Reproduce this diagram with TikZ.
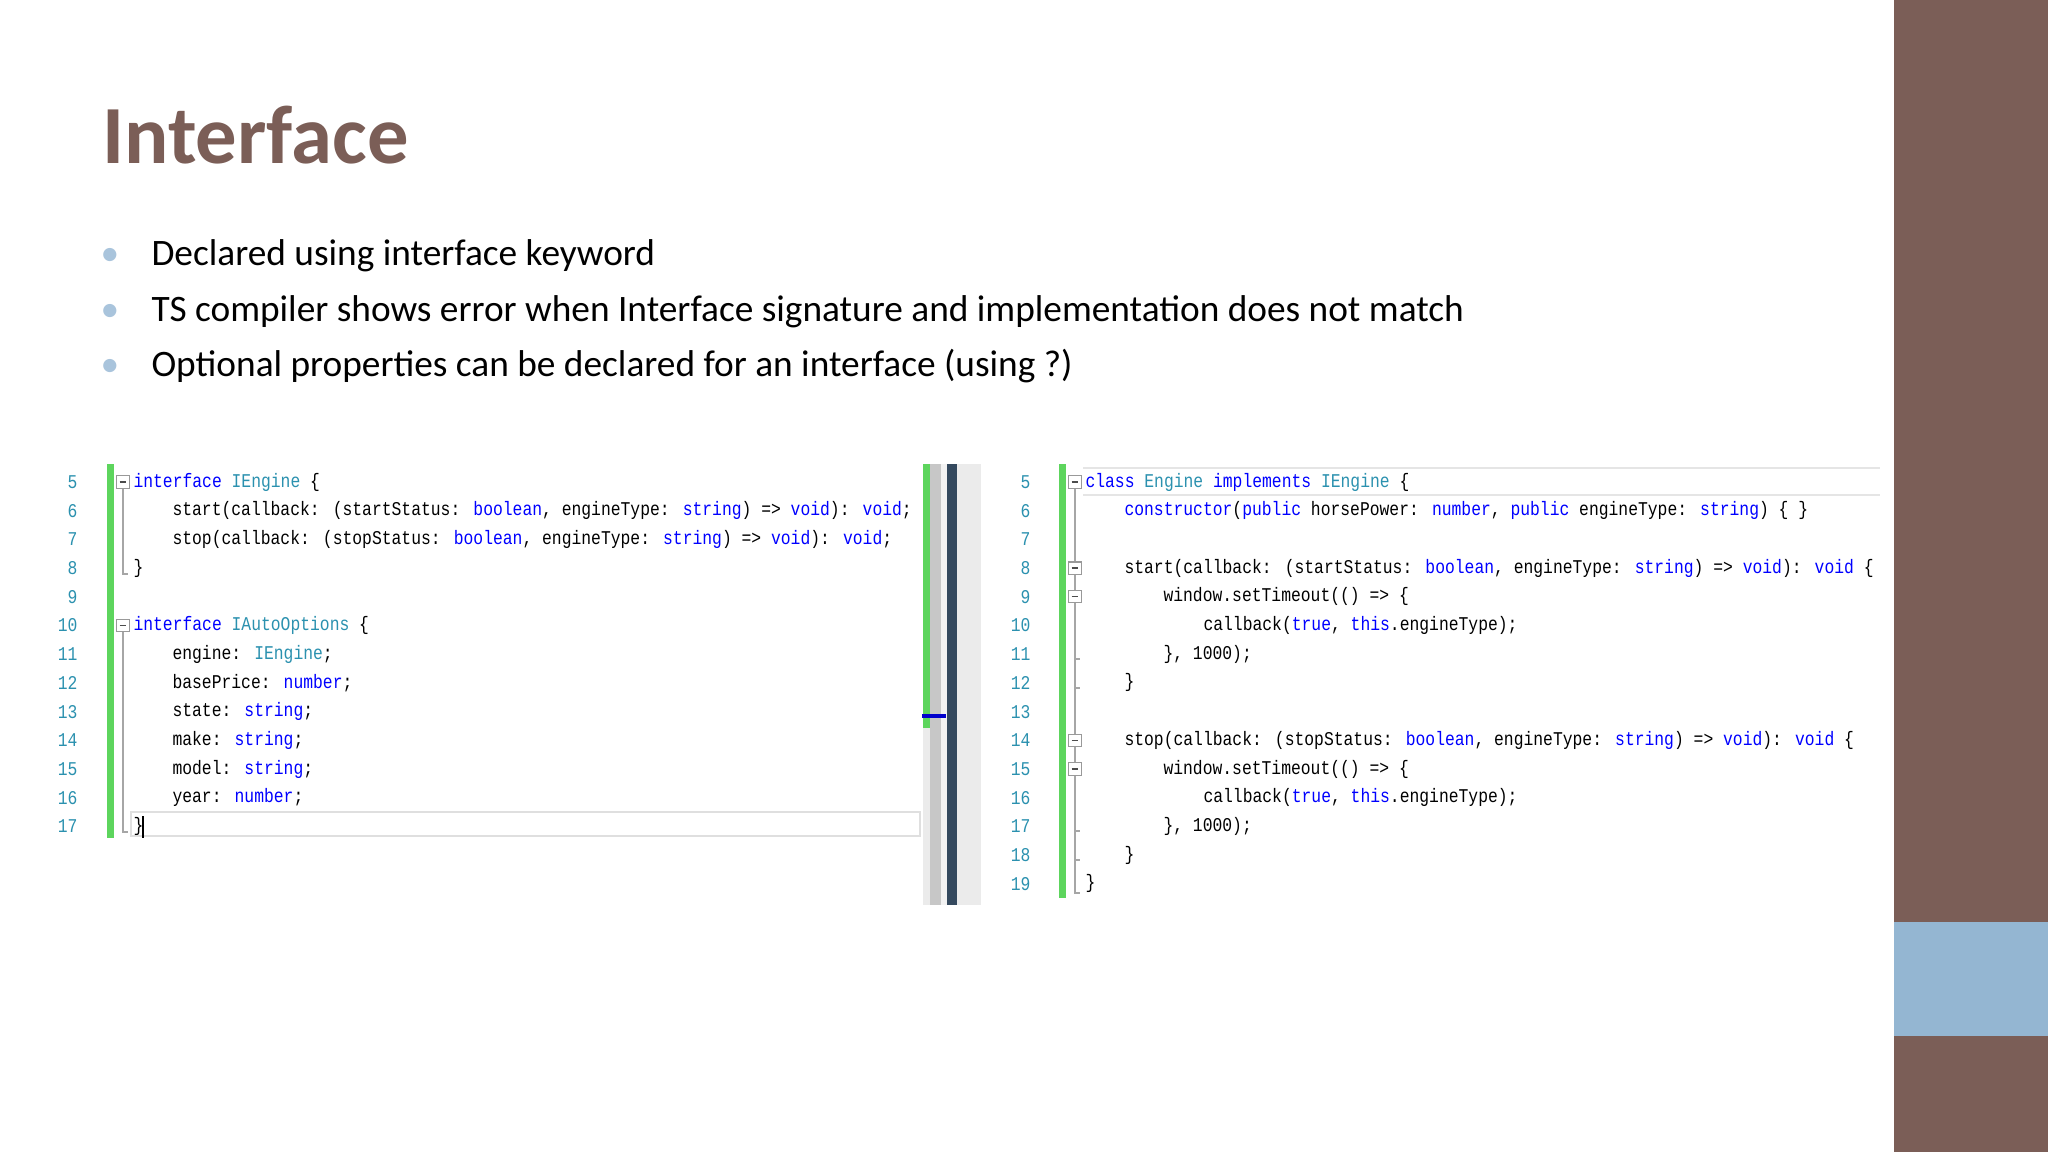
\documentclass[tikz,border=0pt]{standalone}
\usepackage{fontspec}
\setmainfont{Carlito}
\newfontfamily\codefont[FakeStretch=0.84]{Liberation Mono}
\definecolor{brownbar}{HTML}{7B5E57}
\definecolor{bluebar}{HTML}{94B6D2}
\definecolor{kwblue}{HTML}{0000FF}
\definecolor{tyteal}{HTML}{2B91AF}
\definecolor{lnum}{HTML}{2B91AF}
\definecolor{gbar}{HTML}{5DD55D}
\definecolor{bulletc}{HTML}{A9C4DC}
\definecolor{navy}{HTML}{34495E}
\newcommand\kw[1]{\textcolor{kwblue}{#1}}
\newcommand\ty[1]{\textcolor{tyteal}{#1}}
\begin{document}
\begin{tikzpicture}[x=0.375pt,y=-0.375pt,
  codetext/.style={anchor=west,inner sep=0pt,font=\codefont\fontsize{7.3}{8}\selectfont,text=black},
  linenum/.style={anchor=east,inner sep=0pt,font=\codefont\fontsize{7.3}{8}\selectfont,text=lnum},
  bullettext/.style={anchor=base west,inner sep=0pt,font=\fontsize{14}{16}\selectfont,text=black},
  bulletdot/.style={anchor=base,inner sep=0pt,font=\fontsize{14}{16}\selectfont,text=bulletc},
  foldbox/.style={draw=gray!80,fill=white,minimum size=4.6pt,inner sep=0pt,line width=0.4pt,
    path picture={\draw[black!70,line width=0.5pt] ([xshift=1pt]path picture bounding box.west) -- ([xshift=-1pt]path picture bounding box.east);}},
  guide/.style={draw=gray!70,line width=0.4pt}]
\useasboundingbox (0,0) rectangle (2048,1152);
\fill[white] (0,0) rectangle (2048,1152);
% right bars
\fill[brownbar] (1894,0) rectangle (2048,1152);
\fill[bluebar] (1894,922) rectangle (2048,1036);
% title
\node[anchor=base west,inner sep=0pt,text=brownbar,font=\bfseries\fontsize{31}{36}\selectfont] (title) at (102,163) {Interface};
% bullets
\node[bulletdot] (b1) at (110,265) {•};
\node[bullettext] (t1) at (151,265) {Declared using interface keyword};
\node[bulletdot] (b2) at (110,321) {•};
\node[bullettext] (t2) at (151,321) {TS compiler shows error when Interface signature and implementation does not match};
\node[bulletdot] (b3) at (110,376) {•};
\node[bullettext] (t3) at (151,376) {Optional properties can be declared for an interface (using ?)};
% ---------- left panel ----------
\fill[gbar] (107,464) rectangle (114,838);
\draw[gray!25,line width=1pt] (131,812) rectangle (920,836);
\foreach \n in {5,...,17}{
  \node[linenum] (ln\n) at (78,{482+(\n-5)*28.7}) {\n};
}
\node[codetext] (L5) at (133,482) {\kw{interface} \ty{IEngine} \{};
\node[codetext] (L6) at (172,510.7) {start(callback: (startStatus: \kw{boolean}, engineType: \kw{string}) => \kw{void}): \kw{void};};
\node[codetext] (L7) at (172,539.4) {stop(callback: (stopStatus: \kw{boolean}, engineType: \kw{string}) => \kw{void}): \kw{void};};
\node[codetext] (L8) at (133,568.1) {\}};
\node[codetext] (L10) at (133,625.5) {\kw{interface} \ty{IAutoOptions} \{};
\node[codetext] (L11) at (172,654.2) {engine: \ty{IEngine};};
\node[codetext] (L12) at (172,682.9) {basePrice: \kw{number};};
\node[codetext] (L13) at (172,711.6) {state: \kw{string};};
\node[codetext] (L14) at (172,740.3) {make: \kw{string};};
\node[codetext] (L15) at (172,769) {model: \kw{string};};
\node[codetext] (L16) at (172,797.7) {year: \kw{number};};
\node[codetext] (L17) at (133,826.4) {\}};
\draw[black,line width=0.6pt] (143,816) -- (143,838);
\draw[guide] (123,482) -- (123,574) -- (128,574);
\draw[guide] (123,625.5) -- (123,832) -- (128,832);
\node[foldbox] (fL5) at (123,482) {};
\node[foldbox] (fL10) at (123,625.5) {};
% ---------- scrollbar ----------
\fill[black!8] (923,464) rectangle (981,905);
\fill[gbar] (923,464) rectangle (930,728);
\fill[black!22] (930,464) rectangle (941,905);
\fill[white!95!black] (941,464) rectangle (947,905);
\fill[navy] (947,464) rectangle (957,905);
\fill[kwblue!80!black] (922,714) rectangle (946,718);
% ---------- right panel ----------
\draw[gray!20,line width=1pt] (1083,468) -- (1880,468);
\draw[gray!20,line width=1pt] (1083,495) -- (1880,495);
\fill[gbar] (1059,464) rectangle (1066,898);
\foreach \n in {5,...,19}{
  \node[linenum] (rn\n) at (1031,{482+(\n-5)*28.7}) {\n};
}
\node[codetext] (R5) at (1085,482) {\kw{class} \ty{Engine} \kw{implements} \ty{IEngine} \{};
\node[codetext] (R6) at (1124,510.7) {\kw{constructor}(\kw{public} horsePower: \kw{number}, \kw{public} engineType: \kw{string}) \{ \}};
\node[codetext] (R8) at (1124,568.1) {start(callback: (startStatus: \kw{boolean}, engineType: \kw{string}) => \kw{void}): \kw{void} \{};
\node[codetext] (R9) at (1163,596.8) {window.setTimeout(() => \{};
\node[codetext] (R10) at (1203,625.5) {callback(\kw{true}, \kw{this}.engineType);};
\node[codetext] (R11) at (1163,654.2) {\}, 1000);};
\node[codetext] (R12) at (1124,682.9) {\}};
\node[codetext] (R14) at (1124,740.3) {stop(callback: (stopStatus: \kw{boolean}, engineType: \kw{string}) => \kw{void}): \kw{void} \{};
\node[codetext] (R15) at (1163,769) {window.setTimeout(() => \{};
\node[codetext] (R16) at (1203,797.7) {callback(\kw{true}, \kw{this}.engineType);};
\node[codetext] (R17) at (1163,826.4) {\}, 1000);};
\node[codetext] (R18) at (1124,855.1) {\}};
\node[codetext] (R19) at (1085,883.8) {\}};
\draw[guide] (1075,482) -- (1075,893) -- (1080,893);
\draw[guide] (1075,659) -- (1080,659);
\draw[guide] (1075,688) -- (1080,688);
\draw[guide] (1075,831) -- (1080,831);
\draw[guide] (1075,860) -- (1080,860);
\node[foldbox] (fR5) at (1075,482) {};
\node[foldbox] (fR8) at (1075,568.1) {};
\node[foldbox] (fR9) at (1075,596.8) {};
\node[foldbox] (fR14) at (1075,740.3) {};
\node[foldbox] (fR15) at (1075,769) {};
\end{tikzpicture}
\end{document}
